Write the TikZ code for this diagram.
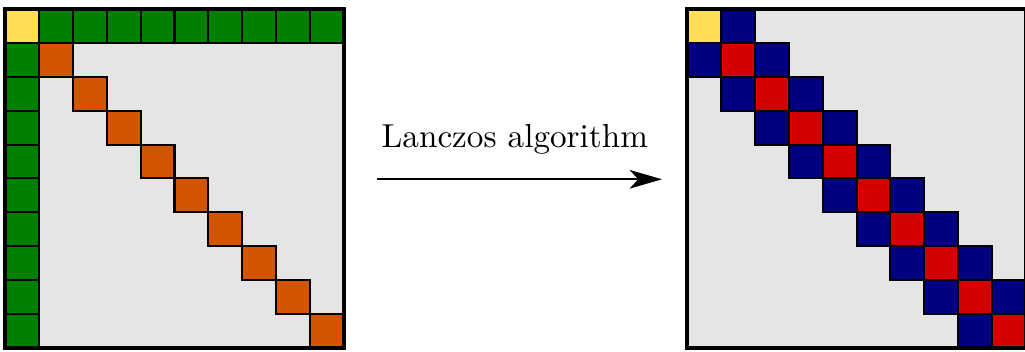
\documentclass[tikz,border=0pt]{standalone}
\usetikzlibrary{arrows.meta}
\definecolor{cyel}{HTML}{FFDD55}
\definecolor{cgreen}{HTML}{008000}
\definecolor{corange}{HTML}{D45500}
\definecolor{cgray}{HTML}{E5E5E5}
\definecolor{cnavy}{HTML}{000080}
\definecolor{cred}{HTML}{D40000}
\begin{document}
\begin{tikzpicture}[x=0.35cm,y=0.35cm,
  cell/.style={draw=black, line width=0.6pt},
  frame/.style={draw=black, line width=1pt},
  arr/.style={-{Stealth[length=9.5pt,width=5.5pt,inset=2.5pt]}, line width=0.5pt}]
\useasboundingbox (-0.1475,-0.118) rectangle (30.09,10.265);
\clip (-0.1475,-0.118) rectangle (30.09,10.265);
% left matrix
\fill[cgray] (0,0) rectangle (10,10);
\filldraw[cell, fill=cyel] (0,9) rectangle ++(1,1);
\foreach \i in {1,...,9} {
  \filldraw[cell, fill=cgreen] (\i,9) rectangle ++(1,1);
  \filldraw[cell, fill=cgreen] (0,9-\i) rectangle ++(1,1);
  \filldraw[cell, fill=corange] (\i,9-\i) rectangle ++(1,1);
}
\draw[frame] (0,0) rectangle (10,10);
% right matrix
\begin{scope}[shift={(20.12,0)}]
\fill[cgray] (0,0) rectangle (10,10);
\filldraw[cell, fill=cyel] (0,9) rectangle ++(1,1);
\filldraw[cell, fill=cnavy] (1,9) rectangle ++(1,1);
\foreach \i in {1,...,9} {
  \filldraw[cell, fill=cred] (\i,9-\i) rectangle ++(1,1);
  \filldraw[cell, fill=cnavy] (\i-1,9-\i) rectangle ++(1,1);
}
\foreach \i in {1,...,8} {
  \filldraw[cell, fill=cnavy] (\i+1,9-\i) rectangle ++(1,1);
}
\draw[frame] (0,0) rectangle (10,10);
\end{scope}
% label and arrow
\node[anchor=base, inner sep=0pt, scale=0.975] (lbl) at (15.04,5.9) {Lanczos algorithm};
\coordinate (a0) at (10.97,4.976);
\coordinate (a1) at (19.38,4.976);
\draw[arr] (a0) -- (a1);
\end{tikzpicture}
\end{document}
